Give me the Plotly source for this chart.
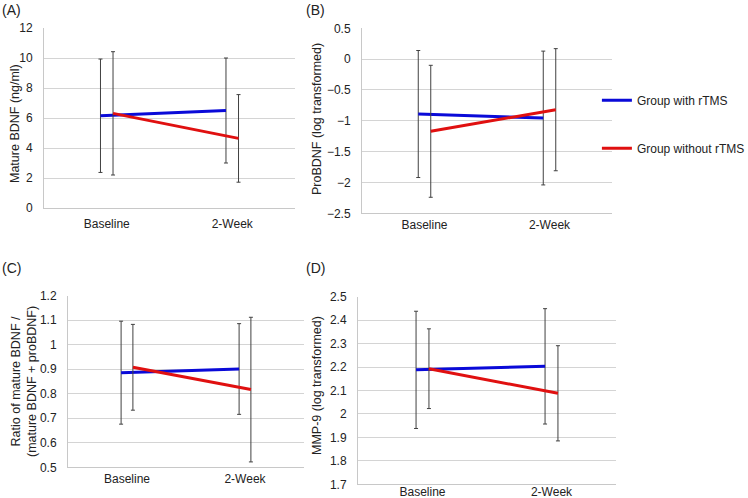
import plotly.graph_objects as go

categories = ["Baseline", "2-Week"]

# Panel A: Mature BDNF (ng/ml)
a_with = [6.15, 6.50]
a_with_err = [3.78, 3.50]
a_without = [6.31, 4.64]
a_without_err = [4.11, 2.92]

# Panel B: ProBDNF (log transformed)
b_with = [-0.89, -0.955]
b_with_err = [1.03, 1.085]
b_without = [-1.17, -0.82]
b_without_err = [1.07, 0.99]

# Panel C: Ratio
c_with = [0.886, 0.901]
c_with_err = [0.21, 0.185]
c_without = [0.908, 0.817]
c_without_err = [0.175, 0.295]

# Panel D: MMP-9 (log transformed)
d_with = [2.188, 2.203]
d_with_err = [0.25, 0.246]
d_without = [2.193, 2.088]
d_without_err = [0.17, 0.203]

BLUE = "#0a0ad8"
RED = "#e01010"
ERR = "#404040"
FONT = "Liberation Sans, Arial, sans-serif"
OFFSET = 0.05

panels = [
    ("x", "y", a_with, a_with_err, a_without, a_without_err),
    ("x2", "y2", b_with, b_with_err, b_without, b_without_err),
    ("x3", "y3", c_with, c_with_err, c_without, c_without_err),
    ("x4", "y4", d_with, d_with_err, d_without, d_without_err),
]

fig = go.Figure()
idx = list(range(len(categories)))
for i, (xa, ya, w, we, wo, woe) in enumerate(panels):
    fig.add_trace(go.Scatter(
        x=[k - OFFSET for k in idx], y=w, xaxis=xa, yaxis=ya, mode="lines",
        line=dict(color=BLUE, width=3), name="Group with rTMS",
        showlegend=(i == 0), legendgroup="g1",
        error_y=dict(type="data", array=we, visible=True, color=ERR, thickness=1, width=2),
    ))
for i, (xa, ya, w, we, wo, woe) in enumerate(panels):
    fig.add_trace(go.Scatter(
        x=[k + OFFSET for k in idx], y=wo, xaxis=xa, yaxis=ya, mode="lines",
        line=dict(color=RED, width=3), name="Group without rTMS",
        showlegend=(i == 0), legendgroup="g2",
        error_y=dict(type="data", array=woe, visible=True, color=ERR, thickness=1, width=2),
    ))

W, H = 748, 498
def dx(a, b):
    return [a / W, b / W]
def dy(top, bottom):
    return [1 - bottom / H, 1 - top / H]

xcommon = dict(range=[-0.5, 1.5], tickvals=idx, ticktext=categories, showgrid=False,
               zeroline=False, showline=True, linecolor="#c8c8c8", linewidth=1,
               ticks="", tickfont=dict(size=12, color="#222"),
               fixedrange=True, automargin=False)
ycommon = dict(showgrid=True, gridcolor="#d4d4d4", gridwidth=1, zeroline=False,
               showline=True, linecolor="#c8c8c8", linewidth=1, ticks="",
               tickfont=dict(size=12, color="#222"), ticklabelstandoff=8, fixedrange=True,
               automargin=False)

fig.update_layout(
    width=W, height=H, margin=dict(l=0, r=0, t=0, b=0, autoexpand=False),
    paper_bgcolor="white", plot_bgcolor="white",
    font=dict(family=FONT, color="#222"),
    showlegend=True,
    legend=dict(x=0.798, y=0.828, xanchor="left", yanchor="top", font=dict(size=12, color="#222"),
                tracegroupgap=29, bgcolor="rgba(0,0,0,0)"),
    xaxis=dict(xcommon, domain=dx(44, 295), anchor="y", ticklabelstandoff=5),
    yaxis=dict(ycommon, domain=dy(28, 208), range=[0, 12], dtick=2, anchor="x"),
    xaxis2=dict(xcommon, domain=dx(362, 612), anchor="y2", ticklabelstandoff=0),
    yaxis2=dict(ycommon, domain=dy(28.3, 213.3), range=[-2.5, 0.5], dtick=0.5, anchor="x2"),
    xaxis3=dict(xcommon, domain=dx(68, 304), anchor="y3", ticklabelstandoff=0),
    yaxis3=dict(ycommon, domain=dy(295.7, 467.3), range=[0.5, 1.2], dtick=0.1, anchor="x3"),
    xaxis4=dict(xcommon, domain=dx(358, 616), anchor="y4", ticklabelstandoff=-4),
    yaxis4=dict(ycommon, domain=dy(296.7, 484.3), range=[1.7, 2.5], dtick=0.1, anchor="x4"),
)

annots = [
    ("(A)", 0, 10, 0, 14),
    ("(B)", 304, 10, 0, 14),
    ("(C)", 0, 268, 0, 14),
    ("(D)", 304, 268, 0, 14),
    ("Mature BDNF (ng/ml)", 15, 124, -90, 12.5),
    ("ProBDNF (log transformed)", 317, 119, -90, 12.5),
    ("Ratio of mature BDNF /<br>(mature BDNF + proBDNF)", 24, 382, -90, 12.5),
    ("MMP-9 (log transformed)", 317, 386, -90, 12.5),
]
for text, px, py, ang, size in annots:
    fig.add_annotation(text=text, x=px / W, y=1 - py / H, xref="paper", yref="paper",
                       showarrow=False, textangle=ang, xanchor="left" if ang == 0 else "center",
                       yanchor="middle", font=dict(size=size, color="#222", family=FONT))

fig.write_html("out.html", config={"displayModeBar": False},
               post_script="document.body.style.margin='0px';document.body.style.overflow='hidden';")
